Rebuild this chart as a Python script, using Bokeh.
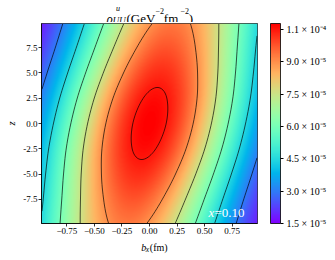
import numpy as np
from bokeh.plotting import figure
from bokeh.layouts import column
from bokeh.models import LinearColorMapper, ColorBar, FixedTicker, Label
from bokeh.embed import file_html
from bokeh.resources import INLINE

# ---------------- values ----------------
# row profiles of rho_UU^u (x = 0.10): for each z node, centre of the ridge in b_x (fm),
# its peak value (units of 1e-5 GeV^-2 fm^-2) and its transverse fall-off (fm^-2)
z_nodes = [-10.0, -7.5, -5.0, -2.5, 0.0, 2.5, 5.0, 7.5, 10.0]
ridge_center = [-0.20, -0.15, -0.10, -0.05, 0.00, 0.05, 0.10, 0.15, 0.20]
ridge_peak = [9.30, 9.78, 10.26, 10.64, 10.78, 10.64, 10.26, 9.78, 9.30]
ridge_falloff = [1.17, 1.17, 1.16, 1.15, 1.15, 1.15, 1.16, 1.17, 1.17]

bx_limits = [-0.98, 0.98]
z_limits = [-9.9, 9.9]

contour_levels = [3.0, 4.5, 6.0, 7.5, 9.0, 10.5]
cbar_low = 1.5
cbar_ticks = [1.5, 3.0, 4.5, 6.0, 7.5, 9.0, 10.5]
cbar_tick_labels = ["1.5 × 10⁻⁵", "3.0 × 10⁻⁵", "4.5 × 10⁻⁵", "6.0 × 10⁻⁵",
                    "7.5 × 10⁻⁵", "9.0 × 10⁻⁵", "1.1 × 10⁻⁴"]
x_ticks = [-0.75, -0.5, -0.25, 0.0, 0.25, 0.5, 0.75]
x_tick_labels = ["−0.75", "−0.50", "−0.25", "0.00", "0.25", "0.50", "0.75"]
y_ticks = [-7.5, -5.0, -2.5, 0.0, 2.5, 5.0, 7.5]
y_tick_labels = ["-7.5", "-5.0", "-2.5", "0.0", "2.5", "5.0", "7.5"]
x_value_text = "=0.10"

# ---------------- grid built from the row profiles ----------------
def smooth_interp(xq, xn, yn):
    xn = np.asarray(xn, float)
    yn = np.asarray(yn, float)
    n = len(xn)
    m = np.empty(n)
    m[1:-1] = (yn[2:] - yn[:-2]) / (xn[2:] - xn[:-2])
    m[0] = (yn[1] - yn[0]) / (xn[1] - xn[0])
    m[-1] = (yn[-1] - yn[-2]) / (xn[-1] - xn[-2])
    i = np.clip(np.searchsorted(xn, xq) - 1, 0, n - 2)
    h = xn[i + 1] - xn[i]
    t = (xq - xn[i]) / h
    h00 = 2 * t**3 - 3 * t**2 + 1
    h10 = t**3 - 2 * t**2 + t
    h01 = -2 * t**3 + 3 * t**2
    h11 = t**3 - t**2
    return h00 * yn[i] + h10 * h * m[i] + h01 * yn[i + 1] + h11 * h * m[i + 1]

NB, NZ = 216, 200
db = (bx_limits[1] - bx_limits[0]) / NB
dz = (z_limits[1] - z_limits[0]) / NZ
b_vals = bx_limits[0] + db * (np.arange(NB) + 0.5)
z_vals = z_limits[0] + dz * (np.arange(NZ) + 0.5)
c_z = smooth_interp(z_vals, z_nodes, ridge_center)
p_z = smooth_interp(z_vals, z_nodes, ridge_peak)
k_z = smooth_interp(z_vals, z_nodes, ridge_falloff)
field = p_z[:, None] * np.exp(-k_z[:, None] * (b_vals[None, :] - c_z[:, None]) ** 2)

# matplotlib "rainbow" colormap
t = np.linspace(0, 1, 256)
rgb = np.stack([np.clip(np.abs(2 * t - 0.5), 0, 1),
                np.clip(np.sin(np.pi * t), 0, 1),
                np.clip(np.cos(np.pi * t / 2), 0, 1)], axis=1)
rainbow = ["#%02x%02x%02x" % tuple(int(round(v * 255)) for v in row) for row in rgb]

mapper = LinearColorMapper(palette=rainbow, low=cbar_low, high=float(field.max()))

SERIF = "Liberation Serif"
W = 335

# ---------------- main plot ----------------
p = figure(width=W, height=215, x_range=tuple(bx_limits), y_range=tuple(z_limits),
           output_backend="svg", toolbar_location=None, frame_align=False,
           min_border_left=41, min_border_right=78, min_border_top=1, min_border_bottom=14)
p.grid.visible = False
p.outline_line_color = "black"
p.outline_line_width = 0.8
p.background_fill_color = "white"
p.border_fill_color = "white"

p.image(image=[field], x=bx_limits[0], y=z_limits[0],
        dw=bx_limits[1] - bx_limits[0], dh=z_limits[1] - z_limits[0], color_mapper=mapper)
p.contour(x=b_vals, y=z_vals, z=field, levels=contour_levels,
          line_color="black", line_width=0.8, line_alpha=0.85)

for ax, ticks, labels in ((p.xaxis[0], x_ticks, x_tick_labels), (p.yaxis[0], y_ticks, y_tick_labels)):
    ax.ticker = FixedTicker(ticks=ticks)
    ax.major_label_overrides = dict(zip(ticks, labels))
    ax.minor_tick_line_color = None
    ax.major_tick_in = 0
    ax.major_tick_out = 3
    ax.major_tick_line_color = "black"
    ax.major_tick_line_width = 0.8
    ax.axis_line_color = "black"
    ax.axis_line_width = 0.8
    ax.major_label_text_font = SERIF
    ax.major_label_text_font_size = "9px"
    ax.major_label_text_color = "black"
    ax.major_label_standoff = 1

p.yaxis.axis_label = "z"
p.yaxis.axis_label_text_font = SERIF
p.yaxis.axis_label_text_font_style = "italic"
p.yaxis.axis_label_text_font_size = "10.5px"
p.yaxis.axis_label_text_color = "black"
p.yaxis.axis_label_standoff = 3

cbar = ColorBar(color_mapper=mapper, location=(229, 0), width=10, height=200,
                padding=0, margin=0,
                ticker=FixedTicker(ticks=cbar_ticks),
                major_label_overrides=dict(zip(cbar_ticks, cbar_tick_labels)),
                major_label_text_font=SERIF, major_label_text_font_size="10px",
                major_label_text_color="black", label_standoff=3,
                major_tick_in=0, major_tick_out=3, major_tick_line_color="black",
                minor_tick_line_color=None,
                bar_line_color="black", bar_line_width=0.8,
                border_line_color=None, background_fill_color=None)
p.add_layout(cbar)

# x = 0.10 tag inside the frame (frame left/bottom at page x=41, y=223)
for txt, px, style in (("x", 208, "italic"), (x_value_text, 214, "normal")):
    p.add_layout(Label(x=px - 41, y=223 - 212, x_units="screen", y_units="screen",
                       text=txt, text_font=SERIF, text_font_size="13px",
                       text_font_style=style, text_color="white",
                       text_baseline="alphabetic"))

# ---------------- title strip and x-label strip ----------------
def strip(h):
    f = figure(width=W, height=h, x_range=(0, W), y_range=(0, h),
               output_backend="svg", toolbar_location=None, frame_align=False,
               x_axis_type=None, y_axis_type=None, min_border=0,
               min_border_left=0, min_border_right=0, min_border_top=0, min_border_bottom=0)
    f.grid.visible = False
    f.outline_line_color = None
    f.background_fill_color = "white"
    f.border_fill_color = "white"
    return f

def put(f, top, h, text, px, py, size, style="normal"):
    # px, py: page position of the text's left end and baseline
    f.add_layout(Label(x=px, y=h - (py - top), x_units="screen", y_units="screen",
                       text=text, text_font=SERIF,
                       text_font_size=f"{size}px", text_font_style=style,
                       text_color="black", text_baseline="alphabetic"))

T_TOP, T_H = 0, 22
title_fig = strip(T_H)
put(title_fig, T_TOP, T_H, "ρ", 106, 18.3, 13, "italic")
put(title_fig, T_TOP, T_H, "u", 115.5, 8, 8, "italic")
put(title_fig, T_TOP, T_H, "UU", 112.3, 19.8, 9, "italic")
put(title_fig, T_TOP, T_H, "(GeV", 126, 18.3, 13)
put(title_fig, T_TOP, T_H, "−2", 155, 10.5, 8)
put(title_fig, T_TOP, T_H, "fm", 163.3, 18.3, 13)
put(title_fig, T_TOP, T_H, "−2", 180, 10.5, 8)
put(title_fig, T_TOP, T_H, ")", 188.3, 18.3, 13)

X_TOP, X_H = 237, 23
xlab_fig = strip(X_H)
put(xlab_fig, X_TOP, X_H, "b", 140.7, 247, 10, "italic")
put(xlab_fig, X_TOP, X_H, "x", 145.3, 248.7, 7.5, "italic")
put(xlab_fig, X_TOP, X_H, "(fm)", 149.3, 247, 10)

layout = column(title_fig, p, xlab_fig, spacing=0)
open("out.html", "w").write(file_html(layout, INLINE))
